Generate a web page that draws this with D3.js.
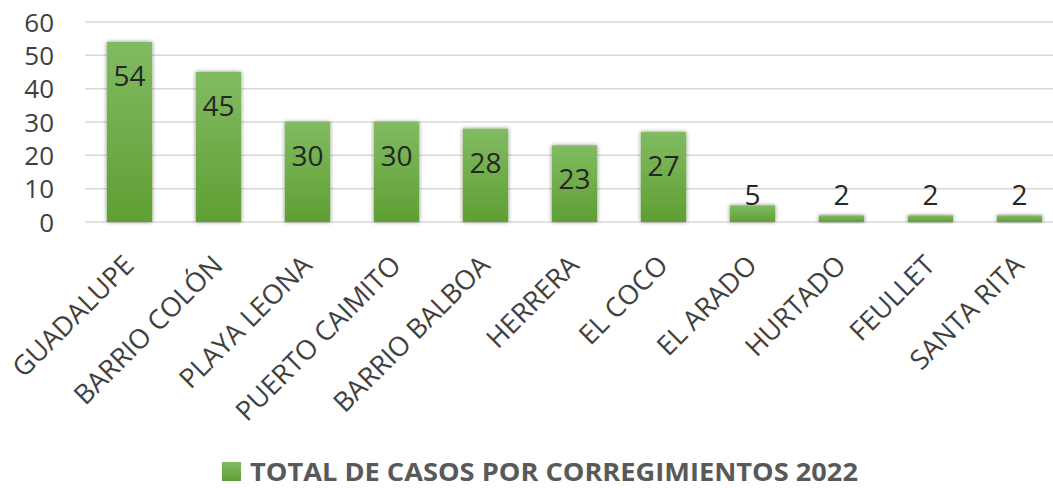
<!DOCTYPE html>
<html><head><meta charset="utf-8">
<script src="https://cdn.jsdelivr.net/npm/d3@7"></script>
<style>html,body{margin:0;padding:0;background:#fff;}svg{display:block;}</style>
</head><body>
<svg id="chart" width="1053" height="488"></svg>
<script>
const categories = ["GUADALUPE","BARRIO COLÓN","PLAYA LEONA","PUERTO CAIMITO","BARRIO BALBOA","HERRERA","EL COCO","EL ARADO","HURTADO","FEULLET","SANTA RITA"];
const values = [54,45,30,30,28,23,27,5,2,2,2];
const yTicks = [0,10,20,30,40,50,60];
const seriesName = "TOTAL DE CASOS POR CORREGIMIENTOS 2022";

(function(){
const svg = d3.select("#chart");
const W = 1053, H = 488;
const pLeft = 85, step = 89, pRight = pLeft + step * categories.length;
const pTop = 22, pBottom = 222;

const x = d3.scaleBand().domain(categories).range([pLeft, pRight]).paddingInner(0.49).paddingOuter(0.245);
const y = d3.scaleLinear().domain([0, 60]).range([pBottom, pTop]);

const defs = svg.append("defs");
const grad = defs.append("linearGradient").attr("id","barGrad").attr("x1",0).attr("y1",0).attr("x2",0).attr("y2",1);
grad.append("stop").attr("offset","0%").attr("stop-color","#81bb62");
grad.append("stop").attr("offset","100%").attr("stop-color","#5f9f33");
const f = defs.append("filter").attr("id","shadow").attr("x","-30%").attr("y","-30%").attr("width","160%").attr("height","160%");
f.append("feGaussianBlur").attr("in","SourceAlpha").attr("stdDeviation",2.2);
f.append("feComponentTransfer").append("feFuncA").attr("type","linear").attr("slope",0.45);
const m = f.append("feMerge"); m.append("feMergeNode"); m.append("feMergeNode").attr("in","SourceGraphic");

// gridlines
svg.append("g").selectAll("line").data(yTicks).join("line")
  .attr("x1", pLeft).attr("x2", W).attr("y1", d => y(d)).attr("y2", d => y(d))
  .attr("stroke","#d9d9d9").attr("stroke-width",1.5);

// y axis labels
const yAxis = d3.axisLeft(y).tickValues(yTicks).tickSize(0).tickPadding(0);
const yg = svg.append("g").attr("transform",`translate(${54},0)`).call(yAxis);
yg.select(".domain").remove();
yg.selectAll("text").attr("font-family","Open Sans, sans-serif").attr("font-size",26).attr("fill","#404040").attr("dy","0.35em");

// bars
svg.append("g").selectAll("rect").data(values).join("rect")
  .attr("x",(d,i)=>x(categories[i])).attr("width",x.bandwidth())
  .attr("y",d=>y(d)).attr("height",d=>y(0)-y(d))
  .attr("fill","url(#barGrad)").attr("filter","url(#shadow)");

// value labels
svg.append("g").selectAll("text").data(values).join("text")
  .attr("x",(d,i)=>x(categories[i])+x.bandwidth()/2)
  .attr("y",d=>Math.min(y(d)+34, y(0)-27))
  .attr("dy","0.36em")
  .attr("text-anchor","middle")
  .attr("font-family","Open Sans, sans-serif").attr("font-size",28).attr("fill","#262626")
  .text(d=>d);

// category labels
const xAxis = d3.axisBottom(x).tickSize(0).tickPadding(0);
const xg = svg.append("g").attr("transform",`translate(0,${pBottom})`).call(xAxis);
xg.select(".domain").remove();
xg.selectAll("text")
  .attr("font-family","Open Sans, sans-serif").attr("font-size",27).attr("fill","#404040")
  .attr("text-anchor","end").attr("dy",0).attr("y",0)
  .attr("transform","translate(6,45) rotate(-45)");

// legend
const lg = svg.append("g").attr("transform","translate(222,462)");
lg.append("rect").attr("width",19).attr("height",19).attr("fill","url(#barGrad)");
lg.append("text").attr("x",28).attr("y",19).attr("font-family","Open Sans, sans-serif").attr("font-weight","bold")
  .attr("font-size",25).attr("fill","#595959").attr("textLength",608).attr("lengthAdjust","spacingAndGlyphs").text(seriesName);
})();
</script>
</body></html>
